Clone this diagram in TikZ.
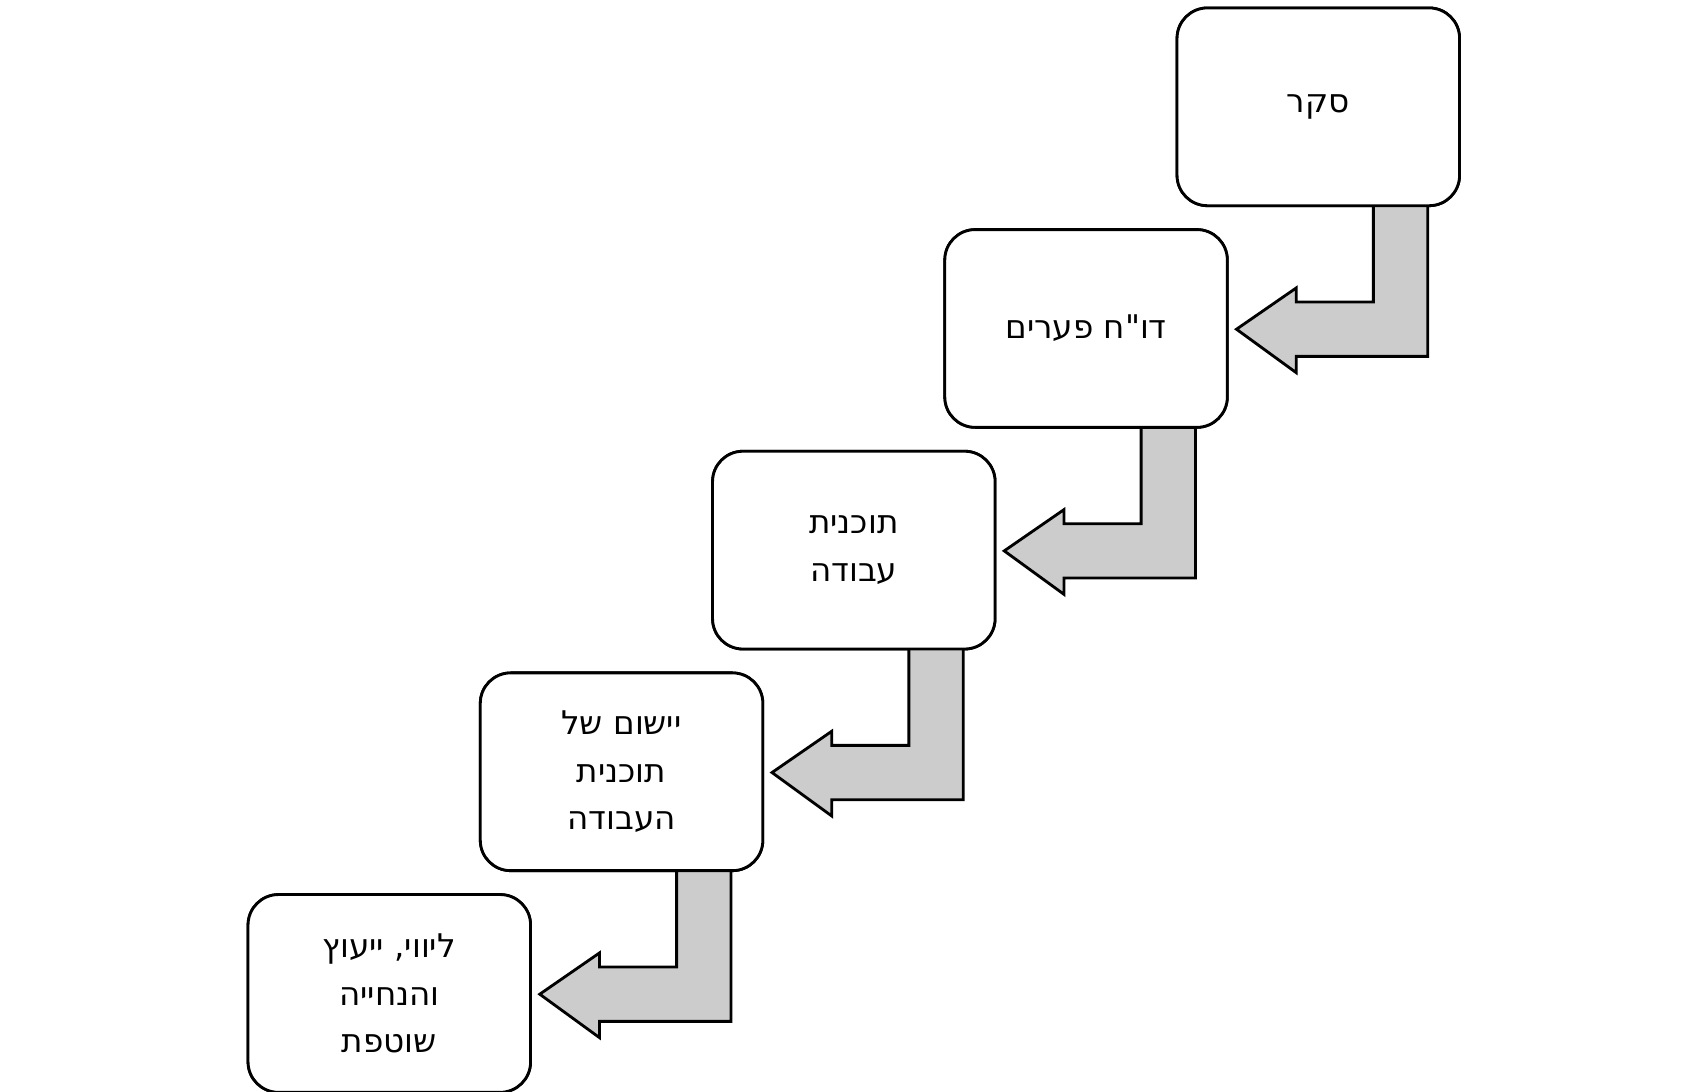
\documentclass[tikz,border=0pt]{standalone}
\usepackage{fontspec}
\newfontfamily\heb[Script=Hebrew]{DejaVu Sans}
\TeXXeTstate=1
\newcommand{\R}[1]{\beginR #1\endR}
\begin{document}
\begin{tikzpicture}[x=1pt,y=-1pt,
  stepbox/.style={draw,line width=2.6pt,rounded corners=28pt,fill=white,minimum width=260pt,minimum height=182pt,font=\heb\fontsize{30}{44}\selectfont,align=center,inner sep=0pt},
  bent/.style={draw,line width=2.6pt,fill=black!20,line join=miter}]
\useasboundingbox (0,0) rectangle (1560,1005);
\foreach \i/\t in {0/{\R{סקר}},1/{\R{דו"ח פערים}},2/{\R{תוכנית}\\\R{עבודה}},3/{\R{יישום של}\\\R{תוכנית}\\\R{העבודה}},4/{\R{ליווי, ייעוץ}\\\R{והנחייה}\\\R{שוטפת}}}{
  \pgfmathsetmacro\L{1082-213.75*\i}
  \pgfmathsetmacro\T{6+204*\i}
  \node[stepbox,anchor=north west] (b\i) at (\L,\T) {\t};
}
\foreach \i in {0,...,3}{
  \pgfmathsetmacro\Rr{1342-213.75*\i}
  \pgfmathsetmacro\B{188+204*\i}
  \draw[bent] (\Rr-78,\B) -- (\Rr-78,\B+90) -- (\Rr-149,\B+90) -- (\Rr-149,\B+77) -- (\Rr-204,\B+115) -- (\Rr-149,\B+155) -- (\Rr-149,\B+140) -- (\Rr-28,\B+140) -- (\Rr-28,\B) -- cycle;
}
\foreach \i in {0,...,4}{\node[stepbox,anchor=north west] at (b\i.north west) {};}
\foreach \i/\t in {0/{\R{סקר}},1/{\R{דו"ח פערים}},2/{\R{תוכנית}\\\R{עבודה}},3/{\R{יישום של}\\\R{תוכנית}\\\R{העבודה}},4/{\R{ליווי, ייעוץ}\\\R{והנחייה}\\\R{שוטפת}}}{
  \node[font=\heb\fontsize{30}{44}\selectfont,align=center] at (b\i) {\t};
}
\end{tikzpicture}
\end{document}
